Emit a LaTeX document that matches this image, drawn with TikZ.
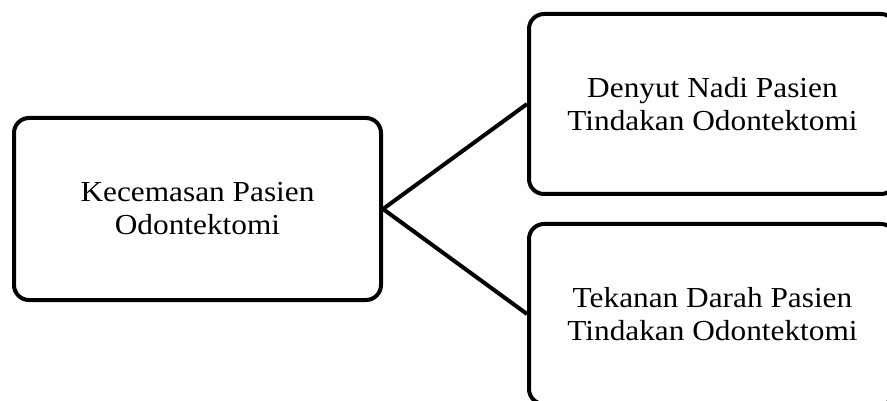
\documentclass[tikz,border=0pt]{standalone}
\usepackage{fontspec}
\setmainfont{Liberation Serif}[FakeStretch=1.08]
\begin{document}
\begin{tikzpicture}[x=1pt,y=-1pt,
  box/.style={draw=black,line width=4pt,rounded corners=15pt,align=center,
    font=\fontsize{29}{33}\selectfont,inner sep=0pt},
  link/.style={draw=black,line width=4pt}]
\useasboundingbox (0,0) rectangle (887,401);
\node[box,minimum width=367pt,minimum height=182pt] (L) at (197.5,209) {Kecemasan Pasien\\Odontektomi};
\node[box,minimum width=367pt,minimum height=180pt] (T) at (712.5,104) {Denyut Nadi Pasien\\Tindakan Odontektomi};
\node[box,minimum width=367pt,minimum height=180pt] (B) at (712.5,314) {Tekanan Darah Pasien\\Tindakan Odontektomi};
\draw[link] (L.east) -- (T.west);
\draw[link] (L.east) -- (B.west);
\end{tikzpicture}
\end{document}
